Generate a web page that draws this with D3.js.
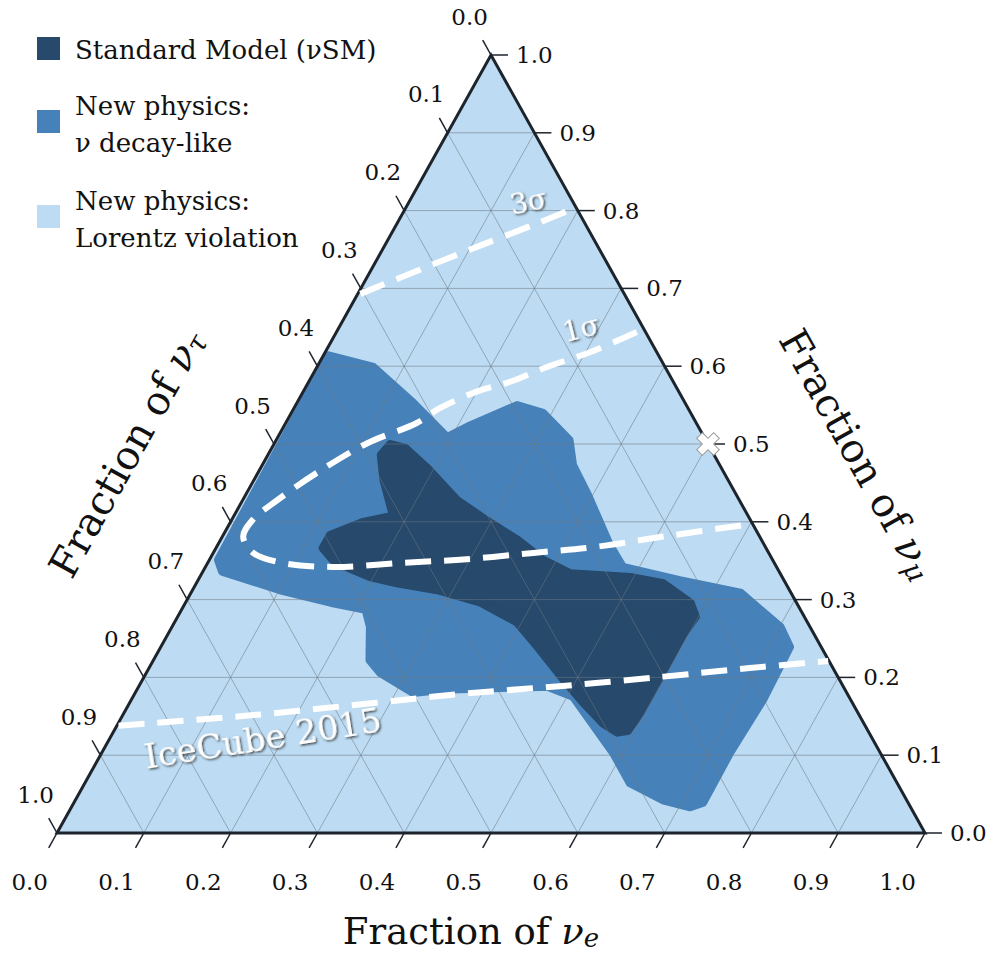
<!DOCTYPE html>
<html>
<head>
<meta charset="utf-8">
<script src="https://cdn.jsdelivr.net/npm/d3@7"></script>
<style>
  body { margin: 0; background: #fff; }
  svg { display: block; }
  text { font-family: "DejaVu Serif", serif; fill: #111; }
</style>
</head>
<body>
<svg id="chart" width="992" height="956"></svg>
<script>
// every point is [fraction of nu_e, fraction of nu_mu]; nu_tau is what is left over
const tickValues = d3.range(0, 11).map(i => i / 10);

const legendLabels = [
  ["Standard Model (\u03bdSM)"],
  ["New physics:", "\u03bd decay-like"],
  ["New physics:", "Lorentz violation"]
];
const legendColors = ["#26496c", "#4682b9", "#bddcf3"];

// nu decay-like region
const decayRegion = [
  [0.006, 0.614], [0.065, 0.599], [0.134, 0.553], [0.195, 0.509], [0.214, 0.524],
  [0.255, 0.550], [0.290, 0.540], [0.338, 0.505], [0.358, 0.473], [0.395, 0.434],
  [0.452, 0.370], [0.481, 0.342], [0.555, 0.325], [0.633, 0.309], [0.701, 0.265],
  [0.725, 0.239], [0.728, 0.171], [0.724, 0.103], [0.725, 0.039], [0.713, 0.033],
  [0.677, 0.042], [0.628, 0.064], [0.589, 0.103], [0.507, 0.175], [0.471, 0.188],
  [0.353, 0.184], [0.320, 0.180], [0.269, 0.206], [0.249, 0.222], [0.228, 0.265],
  [0.212, 0.287], [0.167, 0.296], [0.101, 0.312], [0.022, 0.336], [0.010, 0.351]
];

// Standard Model region
const smRegion = [
  [0.134, 0.500], [0.154, 0.495], [0.191, 0.470], [0.247, 0.428], [0.294, 0.402],
  [0.342, 0.377], [0.385, 0.351], [0.424, 0.334], [0.496, 0.329], [0.538, 0.321],
  [0.582, 0.296], [0.597, 0.278], [0.594, 0.255], [0.595, 0.206], [0.595, 0.154],
  [0.592, 0.131], [0.581, 0.129], [0.558, 0.141], [0.523, 0.167], [0.485, 0.197],
  [0.434, 0.239], [0.394, 0.271], [0.340, 0.296], [0.282, 0.312], [0.231, 0.321],
  [0.196, 0.329], [0.146, 0.348], [0.123, 0.366], [0.123, 0.383], [0.153, 0.400],
  [0.183, 0.408], [0.149, 0.454], [0.130, 0.486]
];

// IceCube contours
const sigma3 = [
  [0.003, 0.693], [0.056, 0.724], [0.110, 0.755], [0.164, 0.785], [0.191, 0.801]
];
const sigma1 = [
  [0.346, 0.644], [0.305, 0.618], [0.265, 0.599], [0.232, 0.580], [0.201, 0.568],
  [0.168, 0.546], [0.151, 0.527], [0.107, 0.501], [0.068, 0.463], [0.040, 0.428],
  [0.024, 0.402], [0.024, 0.381], [0.046, 0.360], [0.087, 0.347], [0.147, 0.342],
  [0.222, 0.347], [0.296, 0.352], [0.369, 0.360], [0.438, 0.368], [0.508, 0.381],
  [0.600, 0.397]
];
const icecube2015 = [
  [0.002, 0.138], [0.136, 0.150], [0.281, 0.167], [0.378, 0.179], [0.488, 0.189],
  [0.598, 0.201], [0.692, 0.212], [0.778, 0.221]
];
const contours = [sigma3, sigma1, icecube2015];

const annotations = ["3\u03c3", "1\u03c3", "IceCube 2015"];
const annotationAt = [[0.137, 0.812], [0.279, 0.649], [0.176, 0.122]];

const bestFit = [[0.5, 0.5]];

// ---------------------------------------------------------------
const svg = d3.select("#chart");

const sx = d3.scaleLinear().domain([0, 1]).range([57, 925]);
const sy = d3.scaleLinear().domain([0, 1]).range([833, 55]);
const proj = d => [sx(d[0] + d[1] / 2), sy(d[1])];

const corners = [[0, 0], [1, 0], [0, 1]];
const triPath = "M" + corners.map(proj).join("L") + "Z";

const defs = svg.append("defs");
defs.append("clipPath").attr("id", "tri").append("path").attr("d", triPath);
const shadow = defs.append("filter").attr("id", "shadow")
  .attr("x", "-20%").attr("y", "-40%").attr("width", "140%").attr("height", "180%");
shadow.append("feDropShadow").attr("dx", 1.2).attr("dy", 1.5)
  .attr("stdDeviation", 0.9).attr("flood-color", "#222").attr("flood-opacity", 0.9);

// background = Lorentz violation
svg.append("path").attr("d", triPath).attr("fill", legendColors[2]);

const area = d3.line()
  .x(d => proj(d)[0]).y(d => proj(d)[1])
  .curve(d3.curveLinearClosed);

const regions = svg.append("g").attr("clip-path", "url(#tri)");
regions.selectAll("path")
  .data([decayRegion, smRegion])
  .join("path")
  .attr("d", area)
  .attr("fill", (d, i) => legendColors[1 - i])
  .attr("stroke", (d, i) => legendColors[1 - i])
  .attr("stroke-width", 8)
  .attr("stroke-linejoin", "round");

// grid
const inner = tickValues.slice(1, -1);
const gridLines = [];
inner.forEach(v => {
  gridLines.push([[v, 0], [v, 1 - v]]);        // constant nu_e
  gridLines.push([[0, v], [1 - v, v]]);        // constant nu_mu
  gridLines.push([[0, 1 - v], [1 - v, 0]]);    // constant nu_tau
});
svg.append("g").selectAll("line")
  .data(gridLines)
  .join("line")
  .attr("x1", d => proj(d[0])[0]).attr("y1", d => proj(d[0])[1])
  .attr("x2", d => proj(d[1])[0]).attr("y2", d => proj(d[1])[1])
  .attr("stroke", "#6e7780").attr("stroke-opacity", 0.55).attr("stroke-width", 1);

// outline
svg.append("path")
  .attr("d", triPath)
  .attr("fill", "none").attr("stroke", "#1d242c").attr("stroke-width", 3);

// axes: each tick has a point on the edge and an outward direction
function unit(a, b) {
  const pa = proj(a), pb = proj(b);
  const dx = pa[0] - pb[0], dy = pa[1] - pb[1], l = Math.hypot(dx, dy);
  return [dx / l, dy / l];
}
const dirE = unit([0, 0], [0, 1]);   // down-left
const dirT = unit([0, 1], [1, 0]);   // up-left
const axes = [
  { pos: v => [v, 0], dir: dirE, dist: 56, anchor: "middle" },
  { pos: v => [1 - v, v], dir: [1, 0], dist: 25, anchor: "start" },
  { pos: v => [0, 1 - v], dir: dirT, dist: 44, anchor: "middle" }
];
const tickLen = 17;
axes.forEach(ax => {
  const g = svg.append("g");
  g.selectAll("line")
    .data(tickValues)
    .join("line")
    .attr("x1", v => proj(ax.pos(v))[0])
    .attr("y1", v => proj(ax.pos(v))[1])
    .attr("x2", v => proj(ax.pos(v))[0] + ax.dir[0] * tickLen)
    .attr("y2", v => proj(ax.pos(v))[1] + ax.dir[1] * tickLen)
    .attr("stroke", "#1d242c").attr("stroke-width", 1.5);
  g.selectAll("text")
    .data(tickValues)
    .join("text")
    .attr("x", v => proj(ax.pos(v))[0] + ax.dir[0] * ax.dist)
    .attr("y", v => proj(ax.pos(v))[1] + ax.dir[1] * ax.dist)
    .attr("text-anchor", ax.anchor)
    .attr("dominant-baseline", "central")
    .attr("font-size", 23)
    .text(v => v.toFixed(1));
});

// dashed IceCube contours
const curve = d3.line()
  .x(d => proj(d)[0]).y(d => proj(d)[1])
  .curve(d3.curveCatmullRom.alpha(0.5));
svg.append("g").selectAll("path")
  .data(contours)
  .join("path")
  .attr("d", curve)
  .attr("fill", "none")
  .attr("stroke", "#fff")
  .attr("stroke-width", 6)
  .attr("stroke-dasharray", "26 13");

// best-fit cross
svg.append("g").selectAll("path")
  .data(bestFit)
  .join("path")
  .attr("transform", d => `translate(${proj(d)}) rotate(45)`)
  .attr("d", d3.symbol(d3.symbolCross, 320))
  .attr("fill", "#fff").attr("stroke", "#9a9a9a").attr("stroke-width", 1);

// contour labels
const annRot = [-12, -14, -9];
const annSize = [28, 28, 34];
svg.append("g").selectAll("text")
  .data(annotations)
  .join("text")
  .attr("transform", (d, i) => `translate(${proj(annotationAt[i])}) rotate(${annRot[i]})`)
  .attr("text-anchor", "middle")
  .attr("dominant-baseline", "central")
  .attr("font-size", (d, i) => annSize[i])
  .attr("filter", "url(#shadow)")
  .style("fill", "#fff")
  .text(d => d);

// legend
const legend = svg.append("g");
const legendTop = [37, 110, 205];
legendLabels.forEach((lines, i) => {
  legend.append("rect")
    .attr("x", 37).attr("y", legendTop[i])
    .attr("width", 23).attr("height", 23)
    .attr("fill", legendColors[i]);
  const t = legend.append("text").attr("font-size", 26);
  lines.forEach((s, j) => {
    t.append("tspan")
      .attr("x", 75)
      .attr("y", (lines.length === 1 ? legendTop[i] + 22 : legendTop[i] + 5 + j * 37))
      .text(s);
  });
});

// axis titles
function title(g, sub, size) {
  const t = g.append("text")
    .attr("text-anchor", "middle")
    .attr("dominant-baseline", "central")
    .attr("font-size", size);
  t.append("tspan").text("Fraction of ");
  t.append("tspan").style("font-style", "italic").text("\u03bd");
  t.append("tspan").style("font-style", "italic")
    .attr("font-size", size * 0.7).attr("baseline-shift", "-25%").text(sub);
  return t;
}
const edgeAngle = Math.atan2(sy(0) - sy(1), sx(0.5) - sx(0)) * 180 / Math.PI;

title(svg.append("g")
  .attr("transform", `translate(${proj([0, 0.5])}) rotate(${-edgeAngle}) translate(-80,-124)`), "\u03c4", 40);
title(svg.append("g")
  .attr("transform", `translate(${proj([0.5, 0.5])}) rotate(${edgeAngle}) translate(82,-126)`), "\u03bc", 40);
title(svg.append("g")
  .attr("transform", `translate(${proj([0.5, 0])}) translate(-20,98)`), "e", 37);
</script>
</body>
</html>
